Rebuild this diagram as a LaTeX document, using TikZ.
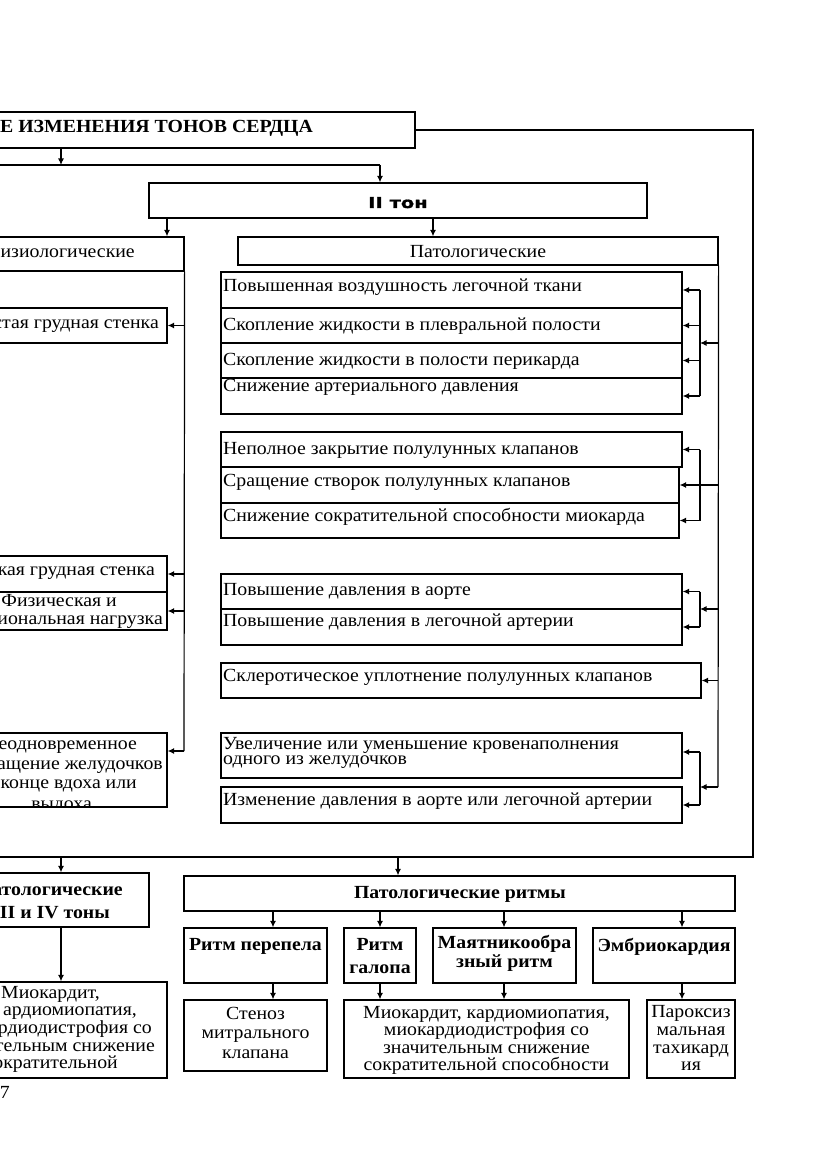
\documentclass[tikz,border=0pt]{standalone}
\usepackage{fontspec}
\setmainfont{Liberation Serif}[FakeStretch=1.07]
\newfontfamily\heavyfont{DejaVu Sans}[FakeStretch=1.3, FakeBold=1.2]
\usetikzlibrary{arrows.meta}
\tikzset{
  box/.style={draw, line width=1.2pt, inner sep=0pt, rectangle},
  ln/.style={line width=1.2pt},
  arr/.style={line width=1.2pt, -{Latex[length=6.5pt,width=6pt]}},
  txt/.style={inner sep=0pt, font=\fontsize{18.5}{18}\selectfont},
  btxt/.style={inner sep=0pt, font=\fontsize{18.5}{18}\selectfont\bfseries},
  htxt/.style={inner sep=0pt, font=\fontsize{15}{15}\heavyfont\bfseries},
}
\newcommand\bx[5]{\node[box, minimum width={#4-(#2)}, minimum height={#5-(#3)}] (#1) at ({(#2+#4)/2},{(#3+#5)/2}) {};}
\newcommand\tx[5]{\node[#2] (#1) at (#3,#4) {#5};}
\begin{document}
\begin{tikzpicture}[x=1pt,y=-1pt]
\useasboundingbox (0,0) rectangle (831,1174);
\clip (0,0) rectangle (831,1174);
\fill[white] (0,0) rectangle (831,1174);
% ---------- boxes ----------
\bx{top}{-10}{112}{415}{148}
\bx{ii}{149}{183}{647}{218}
\bx{fiz}{-10}{237}{184}{271}
\bx{pat}{238}{237}{718}{265}
\bx{L1}{-10}{308}{167}{343}
\bx{L2}{-10}{556}{167}{592}
\bx{L3}{-10}{592}{167}{630}
\bx{L4}{-10}{733}{167}{807}
\bx{r11}{221}{272}{682}{308}
\bx{r12}{221}{308}{682}{343}
\bx{r13}{221}{343}{682}{378}
\bx{r14}{221}{378}{682}{414}
\bx{r21}{221}{432}{682}{467}
\bx{r22}{221}{467}{679}{503}
\bx{r23}{221}{503}{679}{538}
\bx{r31}{221}{574}{682}{609}
\bx{r32}{221}{609}{682}{645}
\bx{r41}{221}{663}{701}{698}
\bx{r51}{221}{733}{682}{778}
\bx{r52}{221}{787}{682}{823}
\bx{b3}{-10}{873}{149}{927}
\bx{bm}{-10}{982}{167}{1078}
\bx{rit}{184}{876}{735}{911}
\bx{q1}{184}{928}{327}{983}
\bx{q2}{344}{928}{416}{983}
\bx{q3}{433}{928}{576}{983}
\bx{q4}{593}{928}{735}{983}
\bx{s1}{184}{1000}{327}{1071}
\bx{s2}{344}{1000}{629}{1078}
\bx{s4}{647}{1000}{735}{1078}
% ---------- texts ----------
\tx{tTop}{btxt,anchor=base east}{313}{133}{Е ИЗМЕНЕНИЯ ТОНОВ СЕРДЦА}
\tx{tII}{htxt,anchor=base}{398}{208}{II тон}
\tx{tFiz}{txt,anchor=base east}{135}{258}{Физиологические}
\tx{tPat}{txt,anchor=base}{478}{258}{Патологические}
\tx{tL1}{txt,anchor=base east}{159}{328}{стая грудная стенка}
\tx{tL2}{txt,anchor=base east}{155}{575}{кая грудная стенка}
\tx{tL3a}{txt,anchor=base east}{117}{606}{Физическая и}
\tx{tL3b}{txt,anchor=base east}{163}{624}{иональная нагрузка}
\tx{tL4a}{txt,anchor=base east}{137}{749}{еодновременное}
\tx{tL4b}{txt,anchor=base east}{163}{769}{ащение желудочков}
\tx{tL4c}{txt,anchor=base east}{137}{788}{конце вдоха или}
\begin{scope}
\clip (L4.north west) rectangle (L4.south east);
\tx{tL4d}{txt,anchor=base east}{92}{809}{выдоха}
\end{scope}
\tx{t11}{txt,anchor=base west}{223}{291}{Повышенная воздушность легочной ткани}
\tx{t12}{txt,anchor=base west}{223}{330}{Скопление жидкости в плевральной полости}
\tx{t13}{txt,anchor=base west}{223}{365}{Скопление жидкости в полости перикарда}
\tx{t14}{txt,anchor=base west}{223}{391}{Снижение артериального давления}
\tx{t21}{txt,anchor=base west}{223}{454}{Неполное закрытие полулунных клапанов}
\tx{t22}{txt,anchor=base west}{223}{486}{Сращение створок полулунных клапанов}
\tx{t23}{txt,anchor=base west}{223}{521}{Снижение сократительной способности миокарда}
\tx{t31}{txt,anchor=base west}{223}{595}{Повышение давления в аорте}
\tx{t32}{txt,anchor=base west}{223}{626}{Повышение давления в легочной артерии}
\tx{t41}{txt,anchor=base west}{223}{681}{Склеротическое уплотнение полулунных клапанов}
\tx{t51}{txt,anchor=base west,align=left,font=\fontsize{18.5}{15.5}\selectfont}{223}{764.5}{Увеличение или уменьшение кровенаполнения\\одного из желудочков}
\tx{t52}{txt,anchor=base west}{223}{805}{Изменение давления в аорте или легочной артерии}
\tx{tb3a}{btxt,anchor=base east}{123}{895}{атологические}
\tx{tb3b}{btxt,anchor=base east}{110}{918}{II и IV тоны}
\tx{tbm1}{txt,anchor=base east}{100}{998}{Миокардит,}
\tx{tbm2}{txt,anchor=base east}{137}{1015}{ардиомиопатия,}
\tx{tbm3}{txt,anchor=base east}{152}{1033}{рдиодистрофия со}
\tx{tbm4}{txt,anchor=base east}{155}{1051}{тельным снижение}
\tx{tbm5}{txt,anchor=base east}{118}{1068}{сократительной}
\tx{tRit}{btxt,anchor=base}{460}{898}{Патологические ритмы}
\tx{tq1}{btxt,anchor=base}{255.5}{950}{Ритм перепела}
\tx{tq2a}{btxt,anchor=base}{380}{950}{Ритм}
\tx{tq2b}{btxt,anchor=base}{380}{973}{галопа}
\tx{tq3a}{btxt,anchor=base}{504.5}{948}{Маятникообра}
\tx{tq3b}{btxt,anchor=base}{504.5}{967}{зный ритм}
\tx{tq4}{btxt,anchor=base}{664}{951}{Эмбриокардия}
\tx{ts1a}{txt,anchor=base}{255.5}{1019}{Стеноз}
\tx{ts1b}{txt,anchor=base}{255.5}{1038}{митрального}
\tx{ts1c}{txt,anchor=base}{255.5}{1058}{клапана}
\tx{ts2a}{txt,anchor=base}{486.5}{1018}{Миокардит, кардиомиопатия,}
\tx{ts2b}{txt,anchor=base}{486.5}{1035}{миокардиодистрофия со}
\tx{ts2c}{txt,anchor=base}{486.5}{1053}{значительным снижение}
\tx{ts2d}{txt,anchor=base}{486.5}{1070}{сократительной способности}
\tx{ts4a}{txt,anchor=base}{691}{1017}{Пароксиз}
\tx{ts4b}{txt,anchor=base}{691}{1035}{мальная}
\tx{ts4c}{txt,anchor=base}{691}{1053}{тахикард}
\tx{ts4d}{txt,anchor=base}{691}{1070}{ия}
\tx{tpage}{txt,anchor=base east}{10}{1098}{7}
% ---------- connectors ----------
\coordinate (h1) at (61,165);
\coordinate (h1l) at (-10,165);
\coordinate (h1r) at (380,165);
\draw[arr] (top.south -| h1) -- (h1);
\draw[ln] (h1l) -- (h1r);
\draw[arr] (h1r) -- (h1r |- ii.north);
\coordinate (o1) at (753,130);
\coordinate (o2) at (753,857);
\coordinate (o3) at (-10,857);
\draw[ln] (top.east) -- (o1) -- (o2) -- (o3);
\coordinate (d1) at (61,857);
\coordinate (d2) at (398,857);
\draw[arr] (d1) -- (d1 |- b3.north);
\draw[arr] (d2) -- (d2 |- rit.north);
\coordinate (e1) at (167,218);
\coordinate (e2) at (433,218);
\draw[arr] (e1) -- (e1 |- fiz.north);
\draw[arr] (e2) -- (e2 |- pat.north);
% physiological spine
\coordinate (fs) at (184,751);
\draw[ln] (fiz.south east) -- (fs);
\draw[arr] (fs |- L1.east) -- (L1.east);
\draw[arr] (fs |- L2.east) -- (L2.east);
\draw[arr] (fs |- L3.east) -- (L3.east);
\draw[arr] (fs) -- (fs -| L4.east);
% pathological spine
\coordinate (ps) at (718,787);
\draw[ln] (pat.south east) -- (ps);
\coordinate (k1) at (700,343);
\draw[ln] (k1 |- r11.east) -- (k1 |- r14.east);
\foreach \n in {r11,r12,r13,r14} \draw[arr] (k1 |- \n.east) -- (\n.east);
\draw[arr] (ps |- k1) -- (k1);
\coordinate (k2) at (700,485);
\draw[ln] (k2 |- r21.east) -- (k2 |- r23.east);
\draw[arr] (k2 |- r21.east) -- (r21.east);
\draw[arr] (k2 |- r23.east) -- (r23.east);
\draw[arr] (ps |- r22.east) -- (r22.east);
\coordinate (k3) at (700,609);
\draw[ln] (k3 |- r31.east) -- (k3 |- r32.east);
\draw[arr] (k3 |- r31.east) -- (r31.east);
\draw[arr] (k3 |- r32.east) -- (r32.east);
\draw[arr] (ps |- k3) -- (k3);
\draw[arr] (ps |- r41.east) -- (r41.east);
\coordinate (k5) at (700,787);
\coordinate (k5a) at (700,752);
\draw[ln] (k5a) -- (k5 |- r52.east);
\draw[arr] (k5a) -- (k5a -| r51.east);
\draw[arr] (k5 |- r52.east) -- (r52.east);
\draw[arr] (ps) -- (k5);
% bottom
\draw[arr] (d1 |- b3.south) -- (d1 |- bm.north);
\coordinate (x1) at (273,0);
\coordinate (x2) at (380,0);
\coordinate (x3) at (504,0);
\coordinate (x4) at (682,0);
\draw[arr] (x1 |- rit.south) -- (x1 |- q1.north);
\draw[arr] (x2 |- rit.south) -- (x2 |- q2.north);
\draw[arr] (x3 |- rit.south) -- (x3 |- q3.north);
\draw[arr] (x4 |- rit.south) -- (x4 |- q4.north);
\draw[arr] (x1 |- q1.south) -- (x1 |- s1.north);
\draw[arr] (x2 |- q2.south) -- (x2 |- s2.north);
\draw[arr] (x3 |- q3.south) -- (x3 |- s2.north);
\draw[arr] (x4 |- q4.south) -- (x4 |- s4.north);
\end{tikzpicture}
\end{document}
